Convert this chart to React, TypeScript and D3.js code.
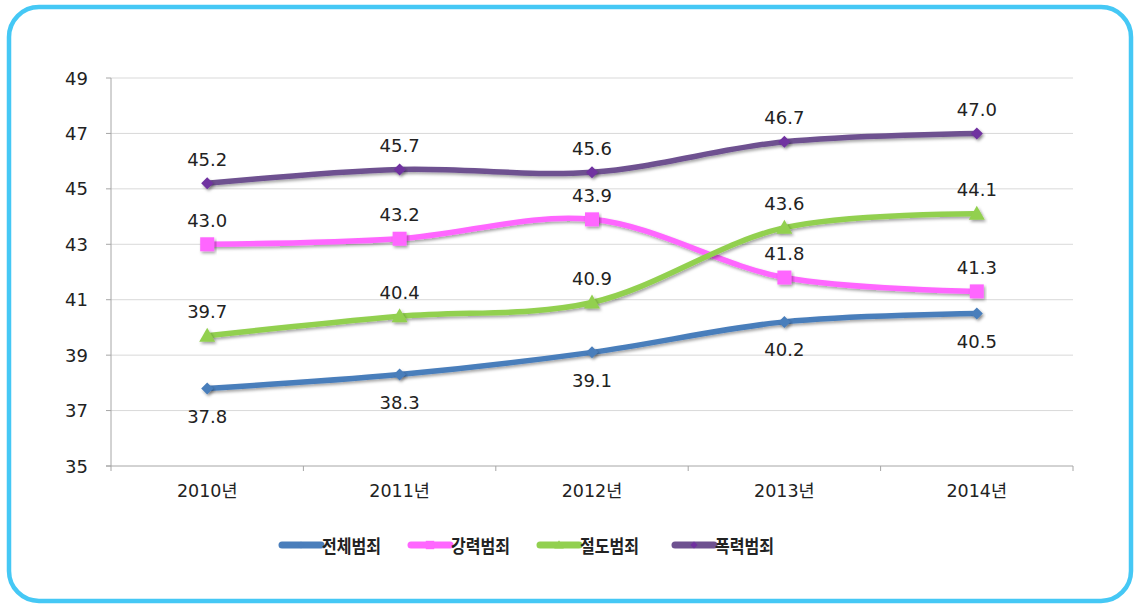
import React from "react";
import * as d3 from "d3";

const categories = ["2010년", "2011년", "2012년", "2013년", "2014년"];
const seriesNames = ["전체범죄", "강력범죄", "절도범죄", "폭력범죄"];
const total = [37.8, 38.3, 39.1, 40.2, 40.5];
const violent = [43.0, 43.2, 43.9, 41.8, 41.3];
const theft = [39.7, 40.4, 40.9, 43.6, 44.1];
const assault = [45.2, 45.7, 45.6, 46.7, 47.0];
const yTicks = [35, 37, 39, 41, 43, 45, 47, 49];

const W = 1135, H = 606;
const plot = { left: 111, right: 1073, top: 78, bottom: 466 };

type S = { name: string; values: number[]; line: string; marker: string; shape: string; below: boolean };

const series: S[] = [
  { name: seriesNames[0], values: total, line: "#4A7EBB", marker: "#4A7EBB", shape: "diamond", below: true },
  { name: seriesNames[1], values: violent, line: "#FF66FF", marker: "#FF66FF", shape: "square", below: false },
  { name: seriesNames[2], values: theft, line: "#92D050", marker: "#92D050", shape: "triangle", below: false },
  { name: seriesNames[3], values: assault, line: "#6E5190", marker: "#7030A0", shape: "diamond", below: false },
];

const font = "'DejaVu Sans', 'Noto Sans CJK KR', sans-serif";
const krFont = "'Noto Sans CJK KR', sans-serif";

function Marker({ shape, x, y, color, k = 1 }: { shape: string; x: number; y: number; color: string; k?: number }) {
  if (shape === "square") return <rect x={x - 7 * k} y={y - 7 * k} width={14 * k} height={14 * k} fill={color} />;
  if (shape === "triangle")
    return <path d={`M${x},${y - 8 * k}L${x + 8 * k},${y + 6 * k}L${x - 8 * k},${y + 6 * k}Z`} fill={color} />;
  return <path d={`M${x},${y - 6 * k}L${x + 6 * k},${y}L${x},${y + 6 * k}L${x - 6 * k},${y}Z`} fill={color} />;
}

export default function App() {
  const x = d3.scaleBand<string>().domain(categories).range([plot.left, plot.right]);
  const y = d3.scaleLinear().domain([35, 49]).range([plot.bottom, plot.top]);
  const cx = (c: string) => (x(c) as number) + x.bandwidth() / 2;
  const line = d3
    .line<number>()
    .x((_, i) => cx(categories[i]))
    .y((d) => y(d))
    .curve(d3.curveCatmullRom.alpha(0.5));

  const legendX = [279, 408, 537, 672];

  return (
    <svg width={W} height={H} style={{ position: "absolute", left: 0, top: 0 }}>
      <defs>
        <filter id="sh" x="-20%" y="-20%" width="140%" height="160%">
          <feDropShadow dx="1.5" dy="2" stdDeviation="1.5" floodColor="#000" floodOpacity="0.35" />
        </filter>
      </defs>
      <rect x={0} y={0} width={W} height={H} fill="#fff" />
      <rect x={9} y={7} width={1122} height={594} rx={30} ry={30} fill="#fff" stroke="#45C8F5" strokeWidth={4.5} />

      {yTicks.map((t) => (
        <g key={t}>
          {t !== 35 && <line x1={plot.left} x2={plot.right} y1={y(t)} y2={y(t)} stroke="#D9D9D9" strokeWidth={1} />}
          <line x1={plot.left - 5} x2={plot.left} y1={y(t)} y2={y(t)} stroke="#A6A6A6" />
          <text x={88} y={y(t)} textAnchor="end" dominantBaseline="central" fontFamily={font} fontSize={18} fill="#222">
            {t}
          </text>
        </g>
      ))}
      <line x1={plot.left} x2={plot.left} y1={plot.top} y2={plot.bottom} stroke="#A6A6A6" />
      <line x1={plot.left - 5} x2={plot.right} y1={plot.bottom} y2={plot.bottom} stroke="#A6A6A6" />
      {categories.map((c, i) => (
        <line key={"t" + i} x1={x(c) as number} x2={x(c) as number} y1={plot.bottom} y2={plot.bottom + 5} stroke="#A6A6A6" />
      ))}
      <line x1={plot.right} x2={plot.right} y1={plot.bottom} y2={plot.bottom + 5} stroke="#A6A6A6" />
      {categories.map((c) => (
        <text key={c} x={cx(c)} y={491} textAnchor="middle" dominantBaseline="central" fontFamily={font} fontSize={17.5} fill="#222">
          {c}
        </text>
      ))}

      {series.map((s) => (
        <g key={s.name}>
          <path d={line(s.values) as string} fill="none" stroke={s.line} strokeWidth={5.5} strokeLinecap="round" filter="url(#sh)" />
          {s.values.map((v, i) => (
            <g key={i} filter="url(#sh)">
              <Marker shape={s.shape} x={cx(categories[i])} y={y(v)} color={s.marker} />
            </g>
          ))}
          {s.values.map((v, i) => (
            <text
              key={"l" + i}
              x={cx(categories[i])}
              y={y(v) + (s.below ? 28 : -24)}
              textAnchor="middle"
              dominantBaseline="central"
              fontFamily={font}
              fontSize={18}
              fill="#222"
            >
              {v.toFixed(1)}
            </text>
          ))}
        </g>
      ))}

      {series.map((s, i) => (
        <g key={"lg" + i}>
          <line x1={legendX[i] + 3} x2={legendX[i] + 42} y1={545} y2={545} stroke={s.line} strokeWidth={7} strokeLinecap="round" />
          <Marker shape={s.shape} x={legendX[i] + 22} y={545} color={s.marker} k={0.6} />
          <text
            x={legendX[i] + 43}
            y={545}
            dominantBaseline="central"
            fontFamily={krFont}
            fontSize={18}
            fontWeight="bold"
            fill="#222"
            textLength={59}
            lengthAdjust="spacingAndGlyphs"
          >
            {s.name}
          </text>
        </g>
      ))}
    </svg>
  );
}
